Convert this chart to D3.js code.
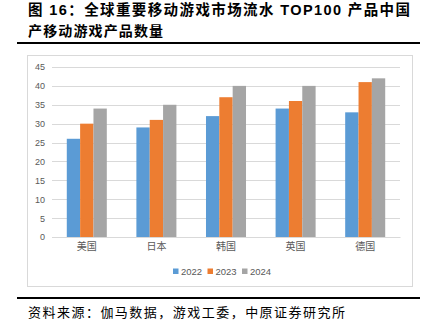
<!DOCTYPE html>
<html><head><meta charset="utf-8">
<script src="https://cdn.jsdelivr.net/npm/d3@7"></script>
<style>body{margin:0;background:#fff}svg{display:block}</style>
</head><body>
<svg id="c" width="428" height="333"></svg>
<script>
const categories = ["美国","日本","韩国","英国","德国"];
const seriesNames = ["2022","2023","2024"];
const v2022 = [26,29,32,34,33];
const v2023 = [30,31,37,36,41];
const v2024 = [34,35,40,40,42];
const yTicks = [0,5,10,15,20,25,30,35,40,45];
const colors = ["#5b9bd5","#ed7d31","#a5a5a5"];
const values = [v2022, v2023, v2024];

const svg = d3.select("#c");
const cjk = "'Noto Sans CJK SC', sans-serif";

// Title
svg.append("text").attr("x",28).attr("y",15)
  .attr("font-family","'Liberation Sans', 'Noto Sans CJK SC', sans-serif")
  .attr("font-weight","bold").attr("font-size",14.5).attr("fill","#000")
  .attr("textLength",382).attr("lengthAdjust","spacing")
  .text("图 16：全球重要移动游戏市场流水 TOP100 产品中国");
svg.append("text").attr("x",28).attr("y",36)
  .attr("font-family",cjk).attr("font-weight","bold").attr("font-size",14).attr("fill","#000")
  .attr("textLength",135).attr("lengthAdjust","spacing")
  .text("产移动游戏产品数量");
svg.append("rect").attr("x",17).attr("y",42).attr("width",403).attr("height",2).attr("fill","#000");

// chart frame
svg.append("rect").attr("x",27.5).attr("y",55.5).attr("width",385).attr("height",231)
  .attr("fill","#fff").attr("stroke","#d9d9d9");

const y = d3.scaleLinear().domain([0,45]).range([237,67]);
const x0 = d3.scaleBand().domain(categories).range([52,400]).paddingInner(0.425).paddingOuter(0.2125);
const x1 = d3.scaleBand().domain(seriesNames).range([0,x0.bandwidth()]);

const g = svg.append("g");
// grid
g.selectAll("line.grid").data(yTicks).join("line")
  .attr("x1",52).attr("x2",400).attr("y1",d=>Math.round(y(d))+0.5).attr("y2",d=>Math.round(y(d))+0.5)
  .attr("stroke","#d9d9d9").attr("stroke-width",1);

const yAxis = d3.axisLeft(y).tickValues(yTicks).tickSize(0).tickPadding(0);
const ya = svg.append("g").attr("transform","translate(45,0)").call(yAxis);
ya.select(".domain").remove();
ya.selectAll("text").attr("font-family","'Liberation Sans', sans-serif").attr("font-size",9).attr("fill","#595959");

// bars
categories.forEach((c,i)=>{
  seriesNames.forEach((s,j)=>{
    g.append("rect")
      .attr("x",x0(c)+x1(s)).attr("width",x1.bandwidth())
      .attr("y",y(values[j][i])).attr("height",y(0)-y(values[j][i]))
      .attr("fill",colors[j]);
  });
});

const xAxis = d3.axisBottom(x0).tickSize(0).tickPadding(6);
const xa = svg.append("g").attr("transform","translate(0,237)").call(xAxis);
xa.select(".domain").attr("stroke","#d9d9d9");
xa.selectAll("text").attr("font-family",cjk).attr("font-size",10).attr("fill","#595959");

// legend
const legX = [173,207.5,242];
seriesNames.forEach((s,j)=>{
  svg.append("rect").attr("x",legX[j]).attr("y",268.5).attr("width",5.5).attr("height",5.5).attr("fill",colors[j]);
  svg.append("text").attr("x",legX[j]+8).attr("y",274.5)
    .attr("font-family","'Liberation Sans', sans-serif").attr("font-size",9.5).attr("fill","#595959").text(s);
});

// bottom rule and source
svg.append("rect").attr("x",17).attr("y",297).attr("width",403).attr("height",2).attr("fill","#000");
svg.append("text").attr("x",28).attr("y",317)
  .attr("font-family",cjk).attr("font-size",13).attr("fill","#000")
  .attr("textLength",317).attr("lengthAdjust","spacing")
  .text("资料来源：伽马数据，游戏工委，中原证券研究所");
</script>
</body></html>
